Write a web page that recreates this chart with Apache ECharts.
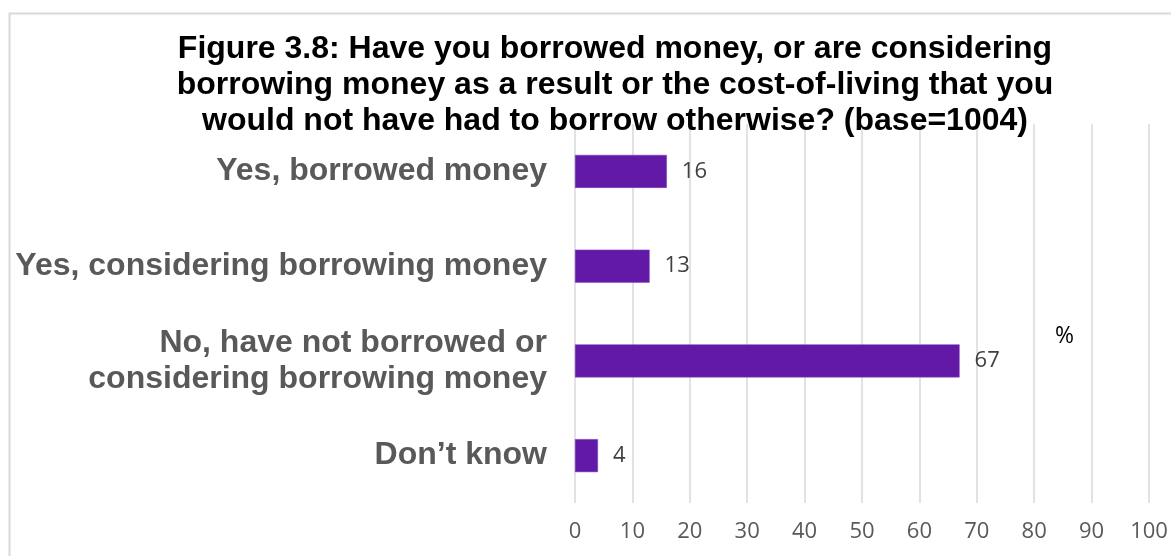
<!DOCTYPE html>
<html>
<head>
<meta charset="utf-8">
<script src="https://cdn.jsdelivr.net/npm/echarts@6/dist/echarts.min.js"></script>
<style>
  html, body { margin: 0; padding: 0; background: #fff; }
  #chart { width: 1171px; height: 556px; }
</style>
</head>
<body>
<div id="chart"></div>
<script>
// Survey responses, percent of respondents (base = 1004)
const categories = [
  'Yes, borrowed money',
  'Yes, considering borrowing money',
  'No, have not borrowed or\nconsidering borrowing money',
  'Don\u2019t know'
];
const percentages = [16, 13, 67, 4];
const axisTicks = [0, 10, 20, 30, 40, 50, 60, 70, 80, 90, 100];

const titleText = 'Figure 3.8: Have you borrowed money, or are considering\n' +
  'borrowing money as a result or the cost-of-living that you\n' +
  'would not have had to borrow otherwise? (base=1004)';

const chart = echarts.init(document.getElementById('chart'));

chart.setOption({
  animation: false,
  backgroundColor: '#ffffff',
  title: {
    text: titleText,
    left: 610,
    top: 26,
    textAlign: 'center',
    textStyle: {
      fontFamily: 'Liberation Sans, Arial, sans-serif',
      fontWeight: 'bold',
      fontSize: 32,
      lineHeight: 36,
      color: '#000000'
    }
  },
  graphic: [
    {
      type: 'rect',
      shape: { x: 9.5, y: 13.5, width: 1200, height: 600 },
      style: { fill: 'none', stroke: '#d9d9d9', lineWidth: 2 },
      z: -10
    },
    {
      type: 'text',
      left: 1055,
      top: 325,
      style: {
        text: '%',
        font: '23px "Open Sans", sans-serif',
        fill: '#000000'
      }
    }
  ],
  grid: {
    left: 575,
    right: 22,
    top: 124,
    bottom: 53,
    containLabel: false
  },
  xAxis: {
    type: 'value',
    min: axisTicks[0],
    max: axisTicks[axisTicks.length - 1],
    interval: axisTicks[1] - axisTicks[0],
    axisLine: { show: false },
    axisTick: { show: false },
    splitLine: { show: true, lineStyle: { color: '#d9d9d9', width: 1.5 } },
    axisLabel: {
      margin: 18,
      fontFamily: 'Open Sans',
      fontSize: 22,
      color: '#595959'
    }
  },
  yAxis: {
    type: 'category',
    data: categories,
    inverse: true,
    axisLine: { show: false },
    axisTick: { show: false },
    splitLine: { show: false },
    axisLabel: {
      margin: 28,
      fontFamily: 'Liberation Sans, Arial, sans-serif',
      fontWeight: 'bold',
      fontSize: 32,
      lineHeight: 36,
      color: '#595959',
      align: 'right'
    }
  },
  series: [{
    type: 'bar',
    data: percentages,
    barWidth: 33,
    itemStyle: { color: '#621aa6', borderColor: '#7a3cc0', borderWidth: 0.5 },
    label: {
      show: true,
      position: 'right',
      distance: 15,
      fontFamily: 'Open Sans',
      fontSize: 22,
      color: '#404040'
    }
  }]
});
</script>
</body>
</html>
